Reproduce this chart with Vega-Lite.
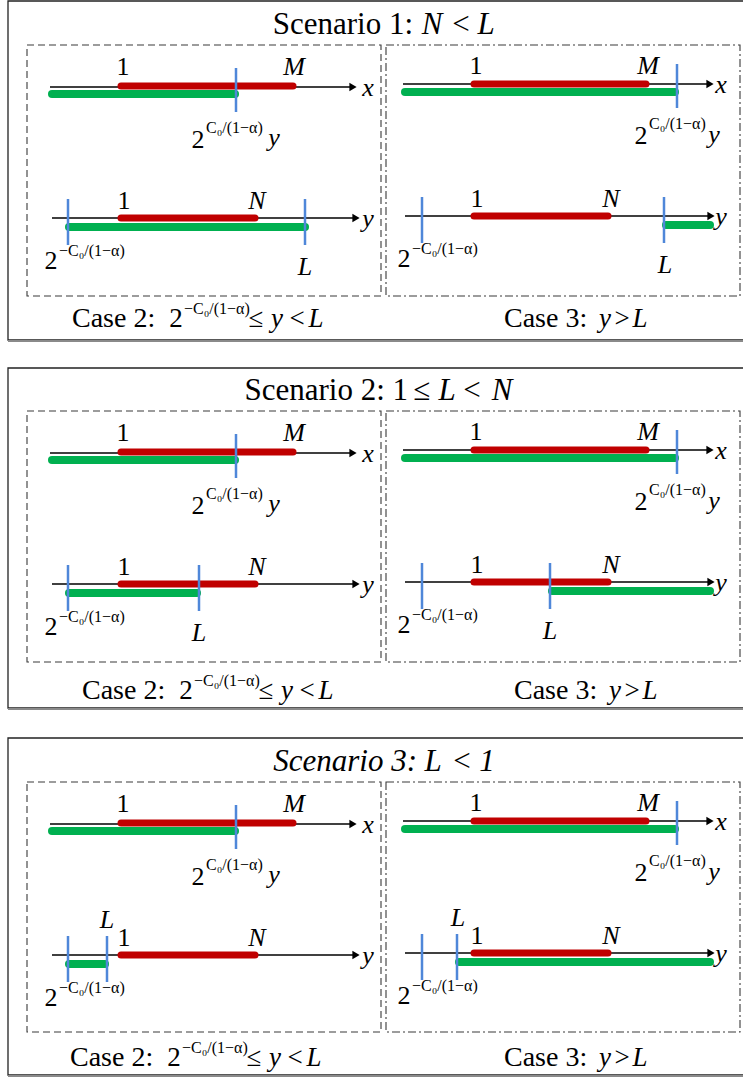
{
  "$schema": "https://vega.github.io/schema/vega-lite/v6.json",
  "width": 743,
  "height": 1078,
  "padding": 0,
  "autosize": "none",
  "background": "white",
  "config": {"view": {"stroke": null}, "text": {"font": "Liberation Serif", "baseline": "alphabetic", "color": "black"}},
  "datasets": {
    "frames": [
      {"x": 8, "x2": 746, "y": 1, "y2": 340},
      {"x": 8, "x2": 746, "y": 368, "y2": 708},
      {"x": 8, "x2": 746, "y": 738, "y2": 1075}
    ],
    "shadow": [
      {"x": 8, "x2": 743, "y": 341},
      {"x": 8, "x2": 743, "y": 709},
      {"x": 8, "x2": 743, "y": 1076}
    ],
    "subL": [
      {"x": 27, "x2": 381, "y": 45, "y2": 296},
      {"x": 27, "x2": 381, "y": 411, "y2": 662},
      {"x": 27, "x2": 381, "y": 782, "y2": 1032}
    ],
    "subR": [
      {"x": 386, "x2": 740, "y": 45, "y2": 296},
      {"x": 386, "x2": 740, "y": 411, "y2": 662},
      {"x": 386, "x2": 740, "y": 782, "y2": 1032}
    ],
    "axes": [
      {"x": 50, "x2": 352, "y": 87}, {"x": 403, "x2": 709, "y": 84}, {"x": 52, "x2": 355, "y": 218}, {"x": 405, "x2": 710, "y": 216},
      {"x": 50, "x2": 352, "y": 453}, {"x": 403, "x2": 709, "y": 450}, {"x": 52, "x2": 355, "y": 584}, {"x": 405, "x2": 710, "y": 582},
      {"x": 50, "x2": 352, "y": 824}, {"x": 403, "x2": 709, "y": 821}, {"x": 52, "x2": 355, "y": 955}, {"x": 405, "x2": 710, "y": 953}
    ],
    "heads": [
      {"x": 353, "y": 87}, {"x": 710, "y": 84}, {"x": 356, "y": 218}, {"x": 711, "y": 216},
      {"x": 353, "y": 453}, {"x": 710, "y": 450}, {"x": 356, "y": 584}, {"x": 711, "y": 582},
      {"x": 353, "y": 824}, {"x": 710, "y": 821}, {"x": 356, "y": 955}, {"x": 711, "y": 953}
    ],
    "red": [
      {"x": 121, "x2": 293, "y": 86}, {"x": 474, "x2": 646, "y": 84}, {"x": 121, "x2": 255, "y": 218}, {"x": 474, "x2": 608, "y": 216},
      {"x": 121, "x2": 293, "y": 452}, {"x": 474, "x2": 646, "y": 450}, {"x": 121, "x2": 255, "y": 584}, {"x": 474, "x2": 608, "y": 582},
      {"x": 121, "x2": 293, "y": 823}, {"x": 474, "x2": 646, "y": 821}, {"x": 121, "x2": 255, "y": 955}, {"x": 474, "x2": 608, "y": 953}
    ],
    "green": [
      {"x": 52, "x2": 235, "y": 94}, {"x": 405, "x2": 675, "y": 92}, {"x": 69, "x2": 305, "y": 227}, {"x": 666, "x2": 710, "y": 225},
      {"x": 52, "x2": 235, "y": 460}, {"x": 405, "x2": 675, "y": 458}, {"x": 69, "x2": 197, "y": 593}, {"x": 552, "x2": 710, "y": 591},
      {"x": 52, "x2": 235, "y": 831}, {"x": 405, "x2": 675, "y": 829}, {"x": 69, "x2": 105, "y": 964}, {"x": 459, "x2": 710, "y": 962}
    ],
    "ticks": [
      {"x": 236, "y": 68, "y2": 112}, {"x": 677, "y": 64, "y2": 108}, {"x": 68, "y": 199, "y2": 245}, {"x": 305, "y": 199, "y2": 245}, {"x": 422, "y": 197, "y2": 243}, {"x": 664, "y": 197, "y2": 243},
      {"x": 236, "y": 434, "y2": 478}, {"x": 677, "y": 430, "y2": 474}, {"x": 68, "y": 565, "y2": 611}, {"x": 199, "y": 565, "y2": 611}, {"x": 422, "y": 563, "y2": 609}, {"x": 550, "y": 563, "y2": 609},
      {"x": 236, "y": 805, "y2": 849}, {"x": 677, "y": 801, "y2": 845}, {"x": 68, "y": 936, "y2": 982}, {"x": 107, "y": 936, "y2": 982}, {"x": 422, "y": 934, "y2": 980}, {"x": 457, "y": 934, "y2": 980}
    ],
    "upright26": [
      {"x": 123, "y": 75, "t": "1"}, {"x": 476, "y": 74, "t": "1"}, {"x": 124, "y": 209, "t": "1"}, {"x": 477, "y": 207, "t": "1"},
      {"x": 123, "y": 441, "t": "1"}, {"x": 476, "y": 440, "t": "1"}, {"x": 124, "y": 575, "t": "1"}, {"x": 477, "y": 573, "t": "1"},
      {"x": 123, "y": 812, "t": "1"}, {"x": 476, "y": 811, "t": "1"}, {"x": 124, "y": 946, "t": "1"}, {"x": 477, "y": 944, "t": "1"},
      {"x": 198, "y": 148, "t": "2"}, {"x": 641, "y": 144, "t": "2"}, {"x": 51, "y": 269, "t": "2"}, {"x": 404, "y": 267, "t": "2"},
      {"x": 198, "y": 514, "t": "2"}, {"x": 641, "y": 510, "t": "2"}, {"x": 51, "y": 635, "t": "2"}, {"x": 404, "y": 633, "t": "2"},
      {"x": 198, "y": 885, "t": "2"}, {"x": 641, "y": 881, "t": "2"}, {"x": 51, "y": 1006, "t": "2"}, {"x": 404, "y": 1004, "t": "2"}
    ],
    "italic26": [
      {"x": 294, "y": 75, "t": "M"}, {"x": 648, "y": 74, "t": "M"}, {"x": 257, "y": 209, "t": "N"}, {"x": 611, "y": 207, "t": "N"},
      {"x": 294, "y": 441, "t": "M"}, {"x": 648, "y": 440, "t": "M"}, {"x": 257, "y": 575, "t": "N"}, {"x": 611, "y": 573, "t": "N"},
      {"x": 294, "y": 812, "t": "M"}, {"x": 648, "y": 811, "t": "M"}, {"x": 257, "y": 946, "t": "N"}, {"x": 611, "y": 944, "t": "N"},
      {"x": 305, "y": 275, "t": "L"}, {"x": 665, "y": 273, "t": "L"},
      {"x": 199, "y": 641, "t": "L"}, {"x": 550, "y": 639, "t": "L"},
      {"x": 107, "y": 928, "t": "L"}, {"x": 458, "y": 926, "t": "L"},
      {"x": 368, "y": 96, "t": "x"}, {"x": 721, "y": 93, "t": "x"}, {"x": 368, "y": 227, "t": "y"}, {"x": 721, "y": 225, "t": "y"},
      {"x": 368, "y": 462, "t": "x"}, {"x": 721, "y": 459, "t": "x"}, {"x": 368, "y": 593, "t": "y"}, {"x": 721, "y": 591, "t": "y"},
      {"x": 368, "y": 833, "t": "x"}, {"x": 721, "y": 830, "t": "x"}, {"x": 368, "y": 964, "t": "y"}, {"x": 721, "y": 962, "t": "y"},
      {"x": 274, "y": 146, "t": "y"}, {"x": 714, "y": 143, "t": "y"},
      {"x": 274, "y": 512, "t": "y"}, {"x": 714, "y": 509, "t": "y"},
      {"x": 274, "y": 883, "t": "y"}, {"x": 714, "y": 880, "t": "y"}
    ],
    "sup": [
      {"x": 206, "y": 133, "t": "C₀/(1−α)"}, {"x": 649, "y": 129, "t": "C₀/(1−α)"}, {"x": 59, "y": 256, "t": "−C₀/(1−α)"}, {"x": 412, "y": 254, "t": "−C₀/(1−α)"},
      {"x": 206, "y": 499, "t": "C₀/(1−α)"}, {"x": 649, "y": 495, "t": "C₀/(1−α)"}, {"x": 59, "y": 622, "t": "−C₀/(1−α)"}, {"x": 412, "y": 620, "t": "−C₀/(1−α)"},
      {"x": 206, "y": 870, "t": "C₀/(1−α)"}, {"x": 649, "y": 866, "t": "C₀/(1−α)"}, {"x": 59, "y": 993, "t": "−C₀/(1−α)"}, {"x": 412, "y": 991, "t": "−C₀/(1−α)"},
      {"x": 184, "y": 314, "t": "−C₀/(1−α)"}, {"x": 194, "y": 686, "t": "−C₀/(1−α)"}, {"x": 182, "y": 1053, "t": "−C₀/(1−α)"}
    ],
    "caseLeft": [
      {"x": 72, "y": 327, "t": "Case 2:"}, {"x": 504, "y": 327, "t": "Case 3:"},
      {"x": 82, "y": 699, "t": "Case 2:"}, {"x": 514, "y": 699, "t": "Case 3:"},
      {"x": 70, "y": 1066, "t": "Case 2:"}, {"x": 504, "y": 1066, "t": "Case 3:"}
    ],
    "caseUp": [
      {"x": 176, "y": 327, "t": "2"}, {"x": 256, "y": 327, "t": "≤"}, {"x": 297, "y": 327, "t": "<"}, {"x": 622, "y": 327, "t": ">"},
      {"x": 186, "y": 699, "t": "2"}, {"x": 266, "y": 699, "t": "≤"}, {"x": 307, "y": 699, "t": "<"}, {"x": 632, "y": 699, "t": ">"},
      {"x": 174, "y": 1066, "t": "2"}, {"x": 254, "y": 1066, "t": "≤"}, {"x": 295, "y": 1066, "t": "<"}, {"x": 622, "y": 1066, "t": ">"}
    ],
    "caseIt": [
      {"x": 277, "y": 327, "t": "y"}, {"x": 316, "y": 327, "t": "L"}, {"x": 605, "y": 327, "t": "y"}, {"x": 640, "y": 327, "t": "L"},
      {"x": 287, "y": 699, "t": "y"}, {"x": 326, "y": 699, "t": "L"}, {"x": 615, "y": 699, "t": "y"}, {"x": 650, "y": 699, "t": "L"},
      {"x": 275, "y": 1066, "t": "y"}, {"x": 314, "y": 1066, "t": "L"}, {"x": 605, "y": 1066, "t": "y"}, {"x": 640, "y": 1066, "t": "L"}
    ],
    "titleUpR": [
      {"x": 413, "y": 34, "t": "Scenario 1:"},
      {"x": 408, "y": 400, "t": "Scenario 2: 1"}
    ],
    "titleUpC": [
      {"x": 461, "y": 34, "t": "<"},
      {"x": 422, "y": 400, "t": "≤"},
      {"x": 472, "y": 400, "t": "<"},
      {"x": 462, "y": 771, "t": "<"}
    ],
    "titleItR": [
      {"x": 417, "y": 771, "t": "Scenario 3:"}
    ],
    "titleItC": [
      {"x": 432, "y": 34, "t": "N"},
      {"x": 486, "y": 34, "t": "L"},
      {"x": 447, "y": 400, "t": "L"},
      {"x": 502, "y": 400, "t": "N"},
      {"x": 433, "y": 771, "t": "L"},
      {"x": 487, "y": 771, "t": "1"}
    ]
  },
  "encoding": {
    "x": {"field": "x", "type": "quantitative", "scale": {"domain": [0, 743], "nice": false, "zero": false}, "axis": null},
    "y": {"field": "y", "type": "quantitative", "scale": {"domain": [0, 1078], "nice": false, "zero": false, "reverse": true}, "axis": null}
  },
  "layer": [
    {"data": {"name": "frames"}, "mark": {"type": "rect", "filled": false, "stroke": "#222", "strokeWidth": 1.3, "clip": true},
     "encoding": {"x2": {"field": "x2"}, "y2": {"field": "y2"}}},
    {"data": {"name": "shadow"}, "mark": {"type": "rule", "stroke": "#8a8a8a", "strokeWidth": 2, "clip": true},
     "encoding": {"x2": {"field": "x2"}}},
    {"data": {"name": "subL"}, "mark": {"type": "rect", "filled": false, "stroke": "#3a3a3a", "strokeWidth": 1.1, "strokeDash": [7, 4]},
     "encoding": {"x2": {"field": "x2"}, "y2": {"field": "y2"}}},
    {"data": {"name": "subR"}, "mark": {"type": "rect", "filled": false, "stroke": "#3a3a3a", "strokeWidth": 1.1, "strokeDash": [8, 3, 2, 3]},
     "encoding": {"x2": {"field": "x2"}, "y2": {"field": "y2"}}},
    {"data": {"name": "axes"}, "mark": {"type": "rule", "stroke": "black", "strokeWidth": 1.3},
     "encoding": {"x2": {"field": "x2"}}},
    {"data": {"name": "heads"}, "mark": {"type": "point", "shape": "triangle-right", "filled": true, "color": "black", "size": 70, "opacity": 1}},
    {"data": {"name": "red"}, "mark": {"type": "rule", "stroke": "#C00000", "strokeWidth": 7, "strokeCap": "round"},
     "encoding": {"x2": {"field": "x2"}}},
    {"data": {"name": "green"}, "mark": {"type": "rule", "stroke": "#00B050", "strokeWidth": 8, "strokeCap": "round"},
     "encoding": {"x2": {"field": "x2"}}},
    {"data": {"name": "ticks"}, "mark": {"type": "rule", "stroke": "#4F87D9", "strokeWidth": 2.5},
     "encoding": {"y2": {"field": "y2"}}},
    {"data": {"name": "upright26"}, "mark": {"type": "text", "fontSize": 26, "align": "center"},
     "encoding": {"text": {"field": "t"}}},
    {"data": {"name": "italic26"}, "mark": {"type": "text", "fontSize": 26, "align": "center", "fontStyle": "italic"},
     "encoding": {"text": {"field": "t"}}},
    {"data": {"name": "sup"}, "mark": {"type": "text", "fontSize": 16, "align": "left"},
     "encoding": {"text": {"field": "t"}}},
    {"data": {"name": "caseLeft"}, "mark": {"type": "text", "fontSize": 28, "align": "left"},
     "encoding": {"text": {"field": "t"}}},
    {"data": {"name": "caseUp"}, "mark": {"type": "text", "fontSize": 27, "align": "center"},
     "encoding": {"text": {"field": "t"}}},
    {"data": {"name": "caseIt"}, "mark": {"type": "text", "fontSize": 27, "align": "center", "fontStyle": "italic"},
     "encoding": {"text": {"field": "t"}}},
    {"data": {"name": "titleUpR"}, "mark": {"type": "text", "fontSize": 31, "align": "right"},
     "encoding": {"text": {"field": "t"}}},
    {"data": {"name": "titleUpC"}, "mark": {"type": "text", "fontSize": 31, "align": "center"},
     "encoding": {"text": {"field": "t"}}},
    {"data": {"name": "titleItR"}, "mark": {"type": "text", "fontSize": 31, "align": "right", "fontStyle": "italic"},
     "encoding": {"text": {"field": "t"}}},
    {"data": {"name": "titleItC"}, "mark": {"type": "text", "fontSize": 31, "align": "center", "fontStyle": "italic"},
     "encoding": {"text": {"field": "t"}}}
  ]
}
